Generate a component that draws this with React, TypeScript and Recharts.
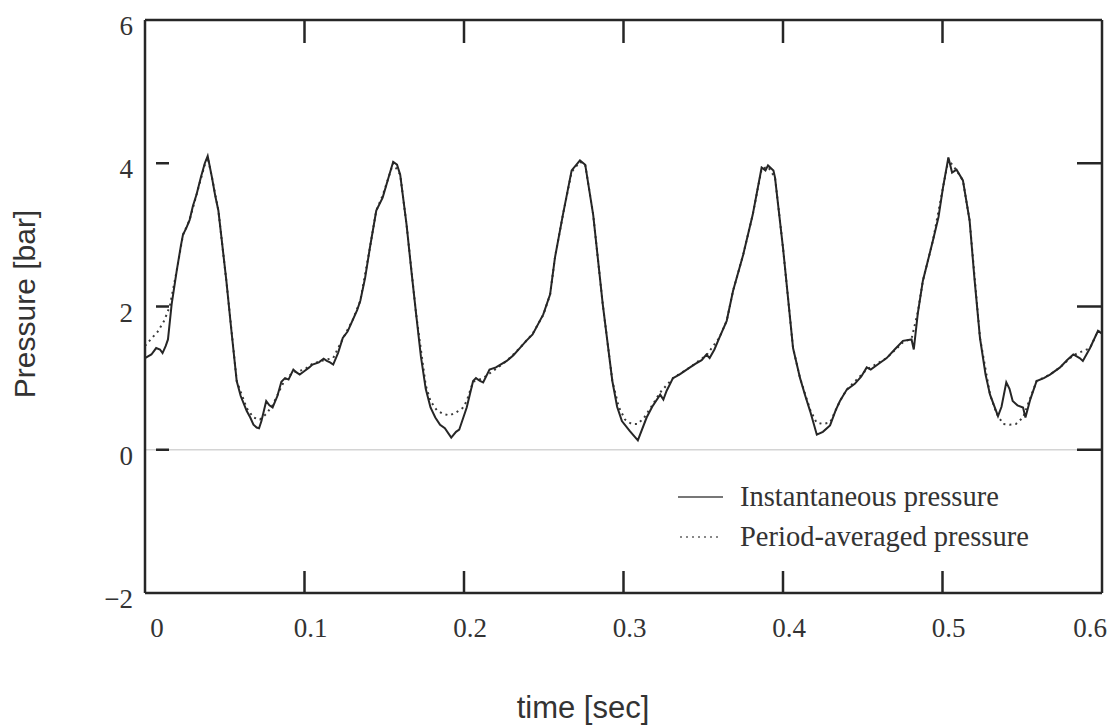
import { LineChart, Line, XAxis, YAxis, ReferenceLine } from 'recharts';

const timeTicks = [0, 0.1, 0.2, 0.3, 0.4, 0.5, 0.6];
const pressureTicks = [-2, 0, 2, 4, 6];
const innerTicksX = [0.1, 0.2, 0.3, 0.4, 0.5];
const innerTicksY = [0, 2, 4];

// instantaneous pressure (solid)
const timeInst = [
  0, 0.004, 0.007, 0.0094, 0.011, 0.013, 0.0144, 0.0167, 0.0199, 0.0225, 0.0238, 0.026, 0.028, 0.03, 0.0324, 0.035,
  0.0375, 0.0393, 0.042, 0.044, 0.046, 0.048, 0.051, 0.054, 0.0575, 0.06, 0.0638, 0.066, 0.068, 0.07, 0.0715, 0.073,
  0.076, 0.078, 0.08, 0.083, 0.0855, 0.0878, 0.09, 0.093, 0.095, 0.097, 0.1, 0.103, 0.105, 0.109, 0.112, 0.114,
  0.116, 0.118, 0.121, 0.124, 0.127, 0.13, 0.133, 0.135, 0.138, 0.141, 0.145, 0.149, 0.152, 0.1556, 0.158, 0.16,
  0.164, 0.167, 0.17, 0.173, 0.176, 0.179, 0.182, 0.185, 0.188, 0.192, 0.195, 0.197, 0.2017, 0.2057, 0.2075, 0.21,
  0.212, 0.216, 0.22, 0.2268, 0.231, 0.235, 0.239, 0.243, 0.2497, 0.254, 0.257, 0.262, 0.2675, 0.2727, 0.276, 0.281,
  0.287, 0.293, 0.296, 0.299, 0.304, 0.309, 0.3145, 0.318, 0.323, 0.325, 0.327, 0.331, 0.335, 0.3417, 0.345, 0.349,
  0.352, 0.354, 0.357, 0.36, 0.3647, 0.3687, 0.375, 0.381, 0.3866, 0.389, 0.3906, 0.394, 0.395, 0.4, 0.4063, 0.4107,
  0.414, 0.417, 0.4212, 0.425, 0.4295, 0.433, 0.4357, 0.44, 0.445, 0.449, 0.4525, 0.455, 0.46, 0.465, 0.47, 0.4752,
  0.4806, 0.482, 0.4845, 0.4877, 0.494, 0.4975, 0.5003, 0.5037, 0.506, 0.5088, 0.5128, 0.517, 0.52, 0.5235, 0.527, 0.5298,
  0.5348, 0.537, 0.54, 0.542, 0.544, 0.547, 0.5505, 0.552, 0.555, 0.559, 0.5635, 0.5674, 0.5737, 0.578, 0.582, 0.586,
  0.588, 0.5925, 0.5975, 0.6,
];
const pressureInst = [
  1.28, 1.33, 1.42, 1.4, 1.35, 1.45, 1.54, 2.03, 2.5, 2.85, 3.0, 3.1, 3.21, 3.4, 3.57, 3.8,
  4.0, 4.1, 3.8, 3.55, 3.34, 2.95, 2.36, 1.7, 0.96, 0.75, 0.54, 0.45, 0.35, 0.31, 0.3, 0.4,
  0.68, 0.62, 0.59, 0.75, 0.95, 1.0, 0.98, 1.12, 1.08, 1.05, 1.1, 1.15, 1.19, 1.22, 1.27, 1.24,
  1.22, 1.19, 1.35, 1.56, 1.65, 1.8, 1.95, 2.08, 2.4, 2.82, 3.34, 3.52, 3.75, 4.02, 3.98, 3.84,
  3.14, 2.5, 1.89, 1.3, 0.85, 0.59, 0.45, 0.35, 0.3, 0.17, 0.25, 0.28, 0.59, 0.96, 1.0, 0.96,
  0.94, 1.12, 1.15, 1.24, 1.32, 1.42, 1.52, 1.61, 1.89, 2.17, 2.68, 3.28, 3.9, 4.04, 3.98, 3.28,
  2.03, 0.96, 0.6, 0.4, 0.26, 0.13, 0.45, 0.6, 0.77, 0.7, 0.82, 1.0, 1.05, 1.15, 1.2, 1.25,
  1.33, 1.28, 1.4, 1.56, 1.8, 2.22, 2.72, 3.28, 3.94, 3.9, 3.97, 3.9, 3.8, 2.82, 1.42, 1.0,
  0.75, 0.54, 0.21, 0.25, 0.34, 0.55, 0.68, 0.84, 0.92, 1.02, 1.15, 1.12, 1.2, 1.28, 1.4, 1.52,
  1.54, 1.4, 1.9, 2.36, 2.92, 3.25, 3.66, 4.08, 3.87, 3.91, 3.76, 3.2, 2.4, 1.56, 1.05, 0.77,
  0.47, 0.6, 0.94, 0.85, 0.68, 0.62, 0.59, 0.45, 0.7, 0.96, 1.0, 1.05, 1.15, 1.25, 1.33, 1.28,
  1.24, 1.42, 1.66, 1.62,
];

// period-averaged pressure (dotted)
const timeAvg = [
  0, 0.004, 0.008, 0.012, 0.0155, 0.0199, 0.0238, 0.028, 0.0324, 0.0375, 0.0393, 0.042, 0.046, 0.051, 0.0575, 0.0638,
  0.068, 0.072, 0.076, 0.08, 0.0855, 0.0878, 0.093, 0.1, 0.105, 0.112, 0.118, 0.124, 0.13, 0.135, 0.141, 0.145,
  0.149, 0.1556, 0.16, 0.164, 0.17, 0.176, 0.179, 0.183, 0.187, 0.191, 0.195, 0.199, 0.2017, 0.2057, 0.212, 0.2268,
  0.235, 0.243, 0.2497, 0.254, 0.257, 0.262, 0.2675, 0.2727, 0.276, 0.281, 0.287, 0.293, 0.297, 0.301, 0.305, 0.309,
  0.313, 0.318, 0.323, 0.331, 0.3417, 0.352, 0.36, 0.3647, 0.3687, 0.375, 0.381, 0.3866, 0.3906, 0.395, 0.4, 0.4063,
  0.4107, 0.417, 0.421, 0.425, 0.4295, 0.4357, 0.44, 0.4525, 0.465, 0.4752, 0.4806, 0.4845, 0.4877, 0.494, 0.5003, 0.5037,
  0.5088, 0.5128, 0.517, 0.5235, 0.5298, 0.534, 0.538, 0.542, 0.546, 0.5505, 0.555, 0.559, 0.5674, 0.5737, 0.582, 0.5925,
  0.5975, 0.6,
];
const pressureAvg = [
  1.45, 1.55, 1.65, 1.8, 2.0, 2.5, 3.0, 3.21, 3.57, 3.98, 4.08, 3.8, 3.34, 2.36, 0.96, 0.58,
  0.45, 0.42, 0.5, 0.62, 0.88, 0.98, 1.08, 1.12, 1.2, 1.25, 1.28, 1.55, 1.8, 2.08, 2.82, 3.34,
  3.55, 4.0, 3.84, 3.14, 1.89, 0.9, 0.68, 0.55, 0.5, 0.48, 0.52, 0.58, 0.68, 0.95, 1.0, 1.24,
  1.42, 1.62, 1.88, 2.17, 2.68, 3.28, 3.88, 4.02, 3.98, 3.28, 2.03, 0.96, 0.6, 0.42, 0.36, 0.36,
  0.45, 0.62, 0.8, 1.0, 1.15, 1.32, 1.56, 1.8, 2.22, 2.72, 3.28, 3.92, 3.95, 3.8, 2.82, 1.42,
  1.0, 0.56, 0.38, 0.36, 0.38, 0.68, 0.84, 1.12, 1.28, 1.5, 1.55, 1.92, 2.36, 2.92, 3.66, 4.05,
  3.9, 3.76, 3.2, 1.56, 0.77, 0.5, 0.36, 0.35, 0.36, 0.45, 0.72, 0.96, 1.05, 1.15, 1.32, 1.42,
  1.66, 1.62,
];

const instData = timeInst.map((t, i) => ({ t, p: pressureInst[i] }));
const avgData = timeAvg.map((t, i) => ({ t, p: pressureAvg[i] }));

const ink = '#262626';
const serif = '"Liberation Serif", "Times New Roman", serif';
const sans = '"Liberation Sans", Arial, sans-serif';

function BottomTick(props: any) {
  const { x, y, payload, index } = props;
  const v = payload.value;
  const last = index === timeTicks.length - 1;
  return (
    <g>
      {innerTicksX.includes(v) && <line x1={x} y1={y} x2={x} y2={y - 22} stroke={ink} strokeWidth={2.5} />}
      <text
        x={last ? x + 5 : x + (index === 0 ? 12 : 6)}
        y={y + 44}
        textAnchor={last ? 'end' : 'middle'}
        fontFamily={serif}
        fontSize={27}
        fill="#333"
      >
        {String(v)}
      </text>
    </g>
  );
}

function TopTick(props: any) {
  const { x, y, payload } = props;
  if (!innerTicksX.includes(payload.value)) return <g />;
  return <line x1={x} y1={y} x2={x} y2={y + 23} stroke={ink} strokeWidth={2.5} />;
}

function LeftTick(props: any) {
  const { x, y, payload } = props;
  const v = payload.value;
  return (
    <g>
      {innerTicksY.includes(v) && <line x1={x + 11} y1={y} x2={x + 24} y2={y} stroke={ink} strokeWidth={2.5} />}
      <text x={x - 12} y={y + 15} textAnchor="end" fontFamily={serif} fontSize={27} fill="#333">
        {v < 0 ? '\u2212' + Math.abs(v) : v}
      </text>
    </g>
  );
}

function RightTick(props: any) {
  const { x, y, payload } = props;
  if (!innerTicksY.includes(payload.value)) return <g />;
  return <line x1={x} y1={y} x2={x - 25} y2={y} stroke={ink} strokeWidth={2.5} />;
}

export default function App() {
  const axisLine = { stroke: ink, strokeWidth: 2.5 };
  return (
    <div style={{ position: 'absolute', left: 0, top: 0, width: 1110, height: 728, overflow: 'hidden' }}>
      <LineChart width={1110} height={728} margin={{ top: 0, right: 0, bottom: 0, left: 0 }}>
        <XAxis
          dataKey="t"
          type="number"
          domain={[0, 0.6]}
          ticks={timeTicks}
          interval={0}
          height={135}
          tickSize={0}
          tickMargin={0}
          tickLine={false}
          axisLine={axisLine}
          tick={<BottomTick />}
          label={{
            content: () => (
              <text x={583} y={718} textAnchor="middle" fontFamily={sans} fontSize={31} fill="#333">
                time [sec]
              </text>
            ),
          }}
        />
        <XAxis
          xAxisId="top"
          orientation="top"
          dataKey="t"
          type="number"
          domain={[0, 0.6]}
          ticks={timeTicks}
          interval={0}
          height={20}
          tickSize={0}
          tickMargin={0}
          tickLine={false}
          axisLine={axisLine}
          tick={<TopTick />}
        />
        <YAxis
          type="number"
          domain={[-2, 6]}
          ticks={pressureTicks}
          interval={0}
          width={145}
          tickSize={0}
          tickMargin={0}
          tickLine={false}
          axisLine={axisLine}
          tick={<LeftTick />}
          label={{
            content: () => (
              <text
                x={24}
                y={304}
                transform="rotate(-90 24 304)"
                textAnchor="middle"
                dominantBaseline="central"
                fontFamily={sans}
                fontSize={30}
                fill="#333"
              >
                Pressure [bar]
              </text>
            ),
          }}
        />
        <YAxis
          yAxisId="right"
          orientation="right"
          type="number"
          domain={[-2, 6]}
          ticks={pressureTicks}
          interval={0}
          width={8}
          tickSize={0}
          tickMargin={0}
          tickLine={false}
          axisLine={axisLine}
          tick={<RightTick />}
        />
        <ReferenceLine y={0} stroke="#d4d4d4" strokeWidth={1.5} />
        {/* invisible series so the top and right frame axes get their ticks */}
        <Line
          xAxisId="top"
          yAxisId="right"
          data={instData}
          dataKey="p"
          stroke="none"
          dot={false}
          activeDot={false}
          legendType="none"
          isAnimationActive={false}
        />
        <Line
          data={avgData}
          dataKey="p"
          type="linear"
          dot={false}
          stroke="#3a3a3a"
          strokeWidth={2}
          strokeDasharray="2 4"
          isAnimationActive={false}
        />
        <Line
          data={instData}
          dataKey="p"
          type="linear"
          dot={false}
          stroke={ink}
          strokeWidth={2}
          isAnimationActive={false}
        />
      </LineChart>
      <div
        style={{
          position: 'absolute',
          left: 678,
          top: 477,
          fontFamily: serif,
          fontSize: 28.5,
          color: '#333',
          lineHeight: '40px',
        }}
      >
        <div style={{ display: 'flex', alignItems: 'center', height: 40 }}>
          <svg width={62} height={40}>
            <line x1={0} y1={20} x2={45} y2={20} stroke="#777" strokeWidth={2} />
          </svg>
          <span>Instantaneous pressure</span>
        </div>
        <div style={{ display: 'flex', alignItems: 'center', height: 40 }}>
          <svg width={62} height={40}>
            <line x1={2} y1={20} x2={42} y2={20} stroke="#888" strokeWidth={2} strokeDasharray="2 4" />
          </svg>
          <span>Period-averaged pressure</span>
        </div>
      </div>
    </div>
  );
}
